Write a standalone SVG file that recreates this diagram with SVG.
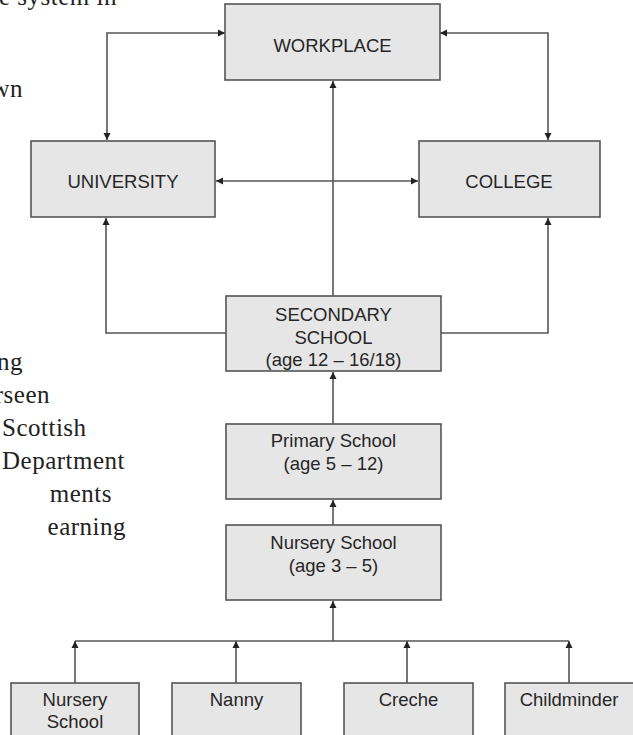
<svg xmlns="http://www.w3.org/2000/svg" width="633" height="735" viewBox="0 0 633 735">
<defs>
<marker id="ah" markerUnits="userSpaceOnUse" markerWidth="8" markerHeight="8" refX="7" refY="3.5" orient="auto-start-reverse" viewBox="0 0 8 7">
<path d="M0,0 L7,3.5 L0,7 z" fill="#222"/>
</marker>
<style>
.box{fill:#e6e6e6;stroke:#555;stroke-width:1.6}
.lbl{font-family:"Liberation Sans",Arial,sans-serif;font-size:18.5px;fill:#262626;text-anchor:middle}
.body{font-family:"Liberation Serif","Times New Roman",serif;font-size:25px;fill:#222;letter-spacing:0.5px}
.c{fill:none;stroke:#555;stroke-width:1.6}
</style>
</defs>
<rect width="633" height="735" fill="#fff"/>
<g id="page-text">
<text class="body" x="117" y="5" text-anchor="end">e system in</text>
<text class="body" x="23" y="97" text-anchor="end">wn</text>
<text class="body" x="23" y="370" text-anchor="end">ng</text>
<text class="body" x="50" y="403" text-anchor="end">rseen</text>
<text class="body" x="2" y="436">Scottish</text>
<text class="body" x="2" y="469">Department</text>
<text class="body" x="112" y="502" text-anchor="end">ments</text>
<text class="body" x="126" y="535" text-anchor="end">earning</text>
</g>
<g id="connectors">
<path class="c" d="M225 33 H107 V140" marker-start="url(#ah)" marker-end="url(#ah)"/>
<path class="c" d="M440 33 H548 V140" marker-start="url(#ah)" marker-end="url(#ah)"/>
<path class="c" d="M216 181 H418" marker-start="url(#ah)" marker-end="url(#ah)"/>
<path class="c" d="M333 296 V81" marker-end="url(#ah)"/>
<path class="c" d="M226 333 H106 V218" marker-end="url(#ah)"/>
<path class="c" d="M441 333 H548 V218" marker-end="url(#ah)"/>
<path class="c" d="M333 424 V372" marker-end="url(#ah)"/>
<path class="c" d="M333 525 V500" marker-end="url(#ah)"/>
<path class="c" d="M333 641 V601" marker-end="url(#ah)"/>
<path class="c" d="M75 641 H569"/>
<path class="c" d="M75 683 V641" marker-end="url(#ah)"/>
<path class="c" d="M236 683 V641" marker-end="url(#ah)"/>
<path class="c" d="M407 683 V641" marker-end="url(#ah)"/>
<path class="c" d="M569 683 V641" marker-end="url(#ah)"/>
</g>
<g id="workplace">
<rect class="box" x="225" y="4" width="215" height="76"/>
<text class="lbl" x="332.5" y="52">WORKPLACE</text>
</g>
<g id="university">
<rect class="box" x="31" y="141" width="184" height="76"/>
<text class="lbl" x="123" y="188">UNIVERSITY</text>
</g>
<g id="college">
<rect class="box" x="419" y="141" width="181" height="76"/>
<text class="lbl" x="509" y="188">COLLEGE</text>
</g>
<g id="secondary-school">
<rect class="box" x="226" y="296" width="215" height="75"/>
<text class="lbl" x="333.5" y="321">SECONDARY</text>
<text class="lbl" x="333.5" y="344">SCHOOL</text>
<text class="lbl" x="333.5" y="366">(age 12 – 16/18)</text>
</g>
<g id="primary-school">
<rect class="box" x="226" y="424" width="215" height="75"/>
<text class="lbl" x="333.5" y="447">Primary School</text>
<text class="lbl" x="333.5" y="470">(age 5 – 12)</text>
</g>
<g id="nursery-school">
<rect class="box" x="226" y="525" width="215" height="75"/>
<text class="lbl" x="333.5" y="549">Nursery School</text>
<text class="lbl" x="333.5" y="572">(age 3 – 5)</text>
</g>
<g id="nursery-school-child">
<rect class="box" x="11" y="683" width="128" height="62"/>
<text class="lbl" x="75" y="706">Nursery</text>
<text class="lbl" x="75" y="728">School</text>
</g>
<g id="nanny">
<rect class="box" x="172" y="683" width="129" height="62"/>
<text class="lbl" x="236.5" y="706">Nanny</text>
</g>
<g id="creche">
<rect class="box" x="344" y="683" width="129" height="62"/>
<text class="lbl" x="408.5" y="706">Creche</text>
</g>
<g id="childminder">
<rect class="box" x="505" y="683" width="129" height="62"/>
<text class="lbl" x="569" y="706">Childminder</text>
</g>
</svg>
